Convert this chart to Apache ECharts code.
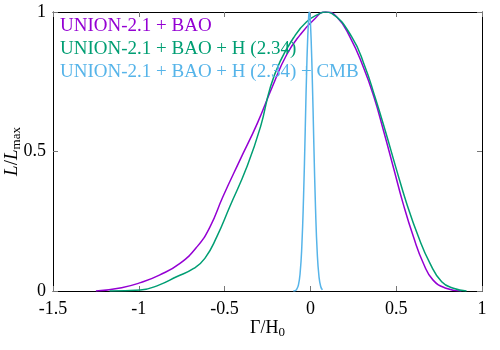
<!DOCTYPE html>
<html>
<head>
<meta charset="utf-8">
<script src="https://cdn.jsdelivr.net/npm/echarts@6/dist/echarts.min.js"></script>
<style>
  html, body { margin: 0; padding: 0; background: #fff; }
  #chart { width: 500px; height: 350px; }
</style>
</head>
<body>
<div id="chart"></div>
<script>
// 图例名称
const names = ['UNION-2.1 + BAO', 'UNION-2.1 + BAO + H (2.34)', 'UNION-2.1 + BAO + H (2.34) + CMB'];
const colors = ['#9400d3', '#009e73', '#56b4e9'];

// UNION-2.1 + BAO
const baoX = [-1.25, -1.1, -0.99, -0.88, -0.76, -0.66, -0.585, -0.51, -0.41, -0.31, -0.22, -0.14, -0.06, 0.02, 0.085, 0.15, 0.23, 0.31, 0.37, 0.425, 0.485, 0.54, 0.6, 0.66, 0.715, 0.79, 0.88];
const baoY = [0, 0.012, 0.03, 0.057, 0.099, 0.159, 0.23, 0.338, 0.47, 0.6, 0.735, 0.845, 0.918, 0.972, 1.0, 0.985, 0.911, 0.8, 0.696, 0.577, 0.44, 0.314, 0.195, 0.097, 0.039, 0.01, 0];

// UNION-2.1 + BAO + H (2.34)
const hX = [-1.17, -0.99, -0.88, -0.78, -0.68, -0.615, -0.545, -0.47, -0.37, -0.29, -0.235, -0.177, -0.1, -0.022, 0.056, 0.09, 0.124, 0.241, 0.318, 0.376, 0.435, 0.497, 0.561, 0.629, 0.697, 0.765, 0.833, 0.91];
const hY = [0, 0.004, 0.022, 0.051, 0.081, 0.117, 0.195, 0.302, 0.445, 0.59, 0.727, 0.822, 0.906, 0.965, 0.995, 1.0, 0.995, 0.911, 0.804, 0.696, 0.577, 0.445, 0.314, 0.195, 0.099, 0.033, 0.01, 0];

// UNION-2.1 + BAO + H (2.34) + CMB
const cmbX = [-0.1, -0.09, -0.08, -0.07, -0.06, -0.05, -0.04, -0.03, -0.02, -0.01, -0.006, 0.0, 0.01, 0.02, 0.03, 0.04, 0.05, 0.06, 0.07];
const cmbY = [0, 0.001, 0.006, 0.021, 0.063, 0.16, 0.335, 0.58, 0.83, 0.985, 1.0, 0.966, 0.785, 0.528, 0.294, 0.135, 0.052, 0.016, 0.004];

const xTicks = { min: -1.5, max: 1, interval: 0.5 };
const yTicks = { min: 0, max: 1, interval: 0.5 };

const font = 'Liberation Serif';
const zip = (xs, ys) => xs.map((x, i) => [x, ys[i]]);

let myChart = echarts.init(document.getElementById('chart'));

const tick = { show: true, inside: true, length: 5, lineStyle: { color: '#777', width: 1 } };
const line = { show: true, onZero: false, lineStyle: { color: '#000', width: 1 } };
const label = { color: '#000', fontFamily: font, fontSize: 18 };

myChart.setOption({
    animation: false,
    backgroundColor: '#fff',
    textStyle: { fontFamily: font },
    grid: { left: 53, right: 18, top: 12, bottom: 59, outerBoundsMode: 'none', containLabel: false },
    legend: {
        orient: 'vertical',
        left: 55,
        top: 17,
        padding: 0,
        icon: 'none',
        itemWidth: 0,
        itemHeight: 18,
        itemGap: 4,
        textStyle: { fontFamily: font, fontSize: 19, lineHeight: 18 },
        data: names.map((n, i) => ({ name: n, textStyle: { color: colors[i], fontFamily: font, fontSize: 19 } }))
    },
    xAxis: [{
        type: 'value',
        min: xTicks.min, max: xTicks.max, interval: xTicks.interval,
        position: 'bottom',
        axisLine: line, axisTick: tick, splitLine: { show: false },
        axisLabel: Object.assign({ margin: 9 }, label),
        name: '{n|Γ/H}{s|0}',
        nameLocation: 'middle',
        nameGap: 26,
        nameMoveOverlap: false,
        nameTextStyle: {
            color: '#000', fontFamily: font,
            rich: {
                n: { fontFamily: font, fontSize: 18, color: '#000', lineHeight: 22, verticalAlign: 'middle' },
                s: { fontFamily: font, fontSize: 13, color: '#000', lineHeight: 12, verticalAlign: 'bottom' }
            }
        }
    }, {
        type: 'value',
        min: xTicks.min, max: xTicks.max, interval: xTicks.interval,
        position: 'top',
        axisLine: line, axisTick: tick, splitLine: { show: false },
        axisLabel: { show: false }
    }],
    yAxis: [{
        type: 'value',
        min: yTicks.min, max: yTicks.max, interval: yTicks.interval,
        position: 'left',
        axisLine: line, axisTick: tick, splitLine: { show: false },
        axisLabel: Object.assign({ margin: 7 }, label),
        name: '{i|L}{n|/}{i|L}{s|max}',
        nameLocation: 'middle',
        nameRotate: 90,
        nameGap: 30,
        nameMoveOverlap: false,
        nameTextStyle: {
            color: '#000', fontFamily: font,
            rich: {
                i: { fontFamily: font, fontSize: 19, fontStyle: 'italic', color: '#000', lineHeight: 22, verticalAlign: 'middle' },
                n: { fontFamily: font, fontSize: 19, color: '#000', lineHeight: 22, verticalAlign: 'middle' },
                s: { fontFamily: font, fontSize: 13, color: '#000', lineHeight: 12, verticalAlign: 'bottom' }
            }
        }
    }, {
        type: 'value',
        min: yTicks.min, max: yTicks.max, interval: yTicks.interval,
        position: 'right',
        axisLine: line, axisTick: tick, splitLine: { show: false },
        axisLabel: { show: false }
    }],
    series: [
        [baoX, baoY], [hX, hY], [cmbX, cmbY]
    ].map((d, i) => ({
        name: names[i],
        type: 'line',
        xAxisIndex: 0,
        yAxisIndex: 0,
        data: zip(d[0], d[1]),
        showSymbol: false,
        smooth: true,
        clip: true,
        lineStyle: { color: colors[i], width: 1.5 },
        itemStyle: { color: colors[i] }
    }))
});
</script>
</body>
</html>
